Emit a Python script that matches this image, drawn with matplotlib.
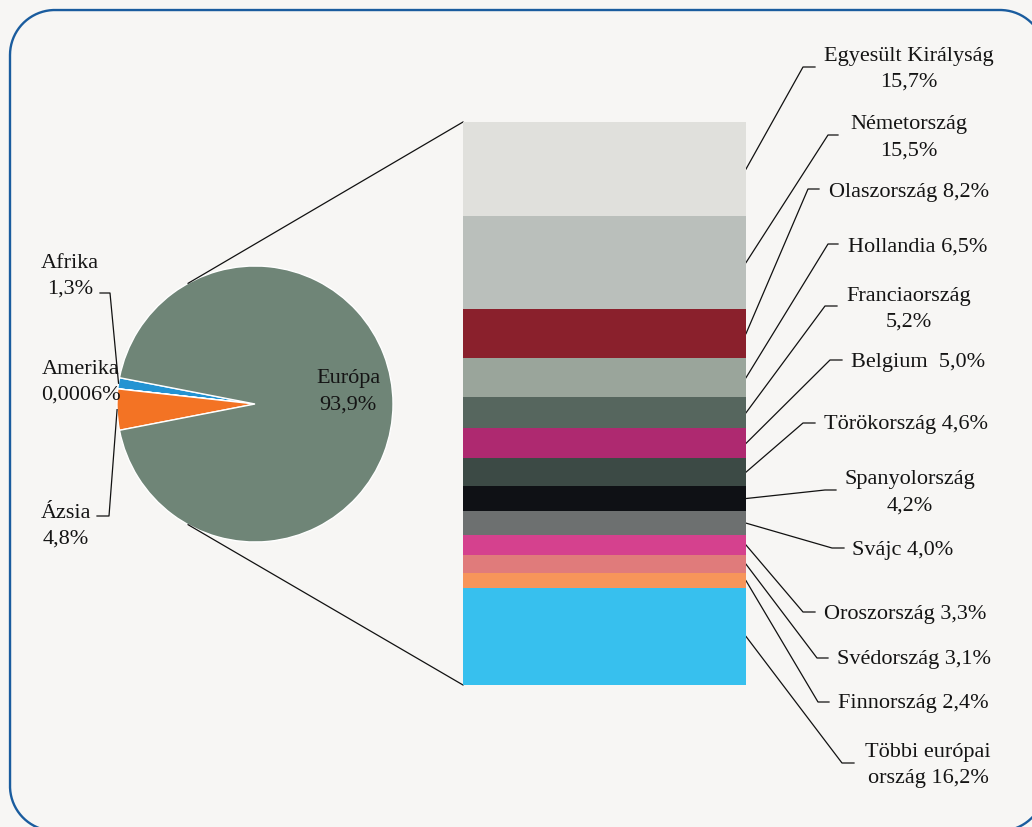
import numpy as np
import matplotlib.pyplot as plt

W, H = 1032, 828

# --- data ---
continents = ['Afrika', 'Amerika', 'Ázsia', 'Európa']
continent_share = [1.3, 0.0006, 4.8, 93.9]
continent_pct = ['1,3%', '0,0006%', '4,8%', '93,9%']
continent_colors = ['#2393d2', '#2393d2', '#f37324', '#6f8577']

countries = ['Egyesült Királyság', 'Németország', 'Olaszország', 'Hollandia',
             'Franciaország', 'Belgium ', 'Törökország', 'Spanyolország',
             'Svájc', 'Oroszország', 'Svédország', 'Finnország',
             'Többi európai\nország']
country_share = [15.7, 15.5, 8.2, 6.5, 5.2, 5.0, 4.6, 4.2, 4.0, 3.3, 3.1, 2.4, 16.2]
country_sep = ['\n', '\n', ' ', ' ', '\n', ' ', ' ', '\n', ' ', ' ', ' ', ' ', ' ']
country_colors = ['#e0e0dc', '#babfbb', '#8a202c', '#9aa59b', '#56665e', '#ae2970',
                  '#3c4a45', '#0f1115', '#6d7070', '#d5418e', '#e07b7b', '#f7955a',
                  '#37c0ee']

# label layout: elbow (x, y), end of the short horizontal tick, text x, text y, alignment
# (pixel units, y measured from the top)
label_layout = [
    (803, 68, 815, 909, 69, 'center'),
    (828, 136, 838, 909, 138, 'center'),
    (808, 190, 819, 829, 192, 'left'),
    (828, 245, 838, 848, 247, 'left'),
    (825, 307, 837, 909, 309, 'center'),
    (830, 361, 842, 851, 362, 'left'),
    (803, 424, 815, 824, 425, 'left'),
    (825, 491, 836, 910, 493, 'center'),
    (832, 549, 844, 852, 550, 'left'),
    (803, 613, 815, 824, 614, 'left'),
    (817, 659, 828, 837, 660, 'left'),
    (818, 703, 829, 838, 704, 'left'),
    (842, 764, 854, 928, 766, 'center'),
]


def fmt(v):
    return f'{v:.1f}'.replace('.', ',') + '%'


def up(y):
    # top-down pixel row -> axes y
    return H - y


def rounded_rect(x0, y0, x1, y1, r, n=40):
    # outline of a rounded rectangle, corners as quarter circles
    pts = []
    for cx, cy, a0 in [(x1 - r, y1 - r, 0), (x0 + r, y1 - r, 90),
                       (x0 + r, y0 + r, 180), (x1 - r, y0 + r, 270)]:
        t = np.deg2rad(np.linspace(a0, a0 + 90, n))
        pts.append(np.column_stack([cx + r * np.cos(t), cy + r * np.sin(t)]))
    pts = np.vstack(pts + [pts[0][:1]])
    return pts[:, 0], pts[:, 1]


plt.rcParams['font.family'] = ['Liberation Serif', 'DejaVu Serif']
text_kw = dict(fontsize=16, color='#141414', linespacing=1.5)

fig = plt.figure(figsize=(W / 100, H / 100), dpi=100, facecolor='#f7f6f4')
ax = fig.add_axes([0, 0, 1, 1])
ax.set_facecolor('#f7f6f4')

# --- pie of continents ---
pie_c = (255, up(405))
pie_r = 138
small = sum(continent_share[:3]) / sum(continent_share)
start = 180 - 360 * small / 2
wedges, _ = ax.pie(continent_share, colors=continent_colors, center=pie_c, radius=pie_r,
                   startangle=start, counterclock=True, explode=[0.035, 0.035, 0.035, 0],
                   wedgeprops=dict(edgecolor='white', linewidth=1), frame=True)

ax.set_xlim(0, W)
ax.set_ylim(0, H)
ax.axis('off')

# continent labels
ax.text(70, up(276), 'Afrika\n' + continent_pct[0], ha='center', va='center', **text_kw)
ax.text(81, up(382), 'Amerika\n' + continent_pct[1], ha='center', va='center', **text_kw)
ax.text(66, up(526), 'Ázsia\n' + continent_pct[2], ha='center', va='center', **text_kw)
ax.text(348, up(392), 'Európa\n' + continent_pct[3], ha='center', va='center', **text_kw)


def wedge_mid(w):
    th = np.deg2rad((w.theta1 + w.theta2) / 2)
    cx, cy = w.center
    return cx + w.r * np.cos(th), cy + w.r * np.sin(th)


ax_x, ax_y = wedge_mid(wedges[0])
ax.plot([100, 110, ax_x], [up(294), up(294), ax_y], color='#111111', lw=0.9)
az_x, az_y = wedge_mid(wedges[2])
ax.plot([97, 109, az_x], [up(517), up(517), az_y], color='#111111', lw=0.9)

# --- bar breaking down Europe ---
bar_left, bar_right, bar_top, bar_bottom = 463, 746, 123, 686
ax_bar = fig.add_axes([bar_left / W, (H - bar_bottom) / H,
                       (bar_right - bar_left) / W, (bar_bottom - bar_top) / H])
offsets = np.concatenate([[0], np.cumsum(country_share)[:-1]])
ax_bar.bar(0, country_share, bottom=offsets, width=1, color=country_colors, linewidth=0)
ax_bar.set_xlim(-0.5, 0.5)
ax_bar.set_ylim(sum(country_share), 0)
ax_bar.axis('off')

to_main = ax.transData.inverted()


def bar_point(x, y):
    return to_main.transform(ax_bar.transData.transform((x, y)))


# connectors from the pie to the bar corners
for ang, yb in [(119, 0), (241, sum(country_share))]:
    px = pie_c[0] + pie_r * np.cos(np.deg2rad(ang))
    py = pie_c[1] + pie_r * np.sin(np.deg2rad(ang))
    bx, by = bar_point(-0.5, yb)
    ax.plot([px, bx], [py, by], color='#111111', lw=0.9)

# country labels with leader lines
for name, sep, v, off, lay in zip(countries, country_sep, country_share, offsets, label_layout):
    ex, ey, tx, lx, ly, ha = lay
    sx, sy = bar_point(0.5, off + v / 2)
    ax.plot([sx, ex, tx], [sy, up(ey), up(ey)], color='#111111', lw=0.9)
    ax.text(lx, up(ly), name + sep + fmt(v), ha=ha, va='center',
            multialignment='center', **text_kw)

# rounded frame, partly running off the right and bottom edges
fx, fy = rounded_rect(10, up(832), 1045, up(11), 45)
ax.plot(fx, fy, color='#1a5c9e', lw=1.7, clip_on=False, solid_joinstyle='round')

fig.savefig('out.png', dpi=100, facecolor=fig.get_facecolor())
